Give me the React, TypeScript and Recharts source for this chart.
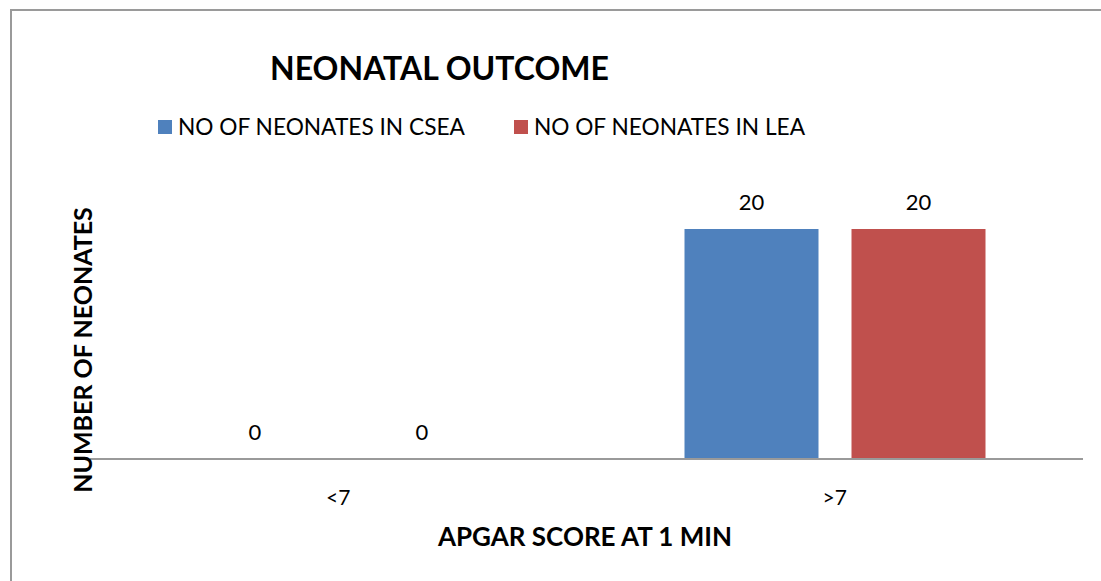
import React from "react";
import { BarChart, Bar, XAxis, YAxis, LabelList } from "recharts";

const categories = ["<7", ">7"];
const cseaValues = [0, 20];
const leaValues = [0, 20];
const seriesNames = ["NO OF NEONATES IN CSEA", "NO OF NEONATES IN LEA"];
const seriesColors = ["#4F81BD", "#C0504D"];
const chartTitle = "NEONATAL OUTCOME";
const xTitle = "APGAR SCORE AT 1 MIN";
const yTitle = "NUMBER OF NEONATES";

const data = categories.map((c, i) => ({ cat: c, csea: cseaValues[i], lea: leaValues[i] }));

const FONT = "Lato, 'Open Sans', sans-serif";

export default function App() {
  return (
    <div style={{ position: "absolute", left: 0, top: 0, width: 1101, height: 581, background: "#fff", overflow: "hidden", fontFamily: FONT }}>
      <div style={{ position: "absolute", left: 10, top: 9, width: 1200, height: 700, borderLeft: "2px solid #9a9a9a", borderTop: "2px solid #9a9a9a" }} />
      <BarChart
        width={1101}
        height={581}
        data={data}
        margin={{ top: 171.5, right: 18, left: 90, bottom: 92 }}
        barSize={134}
        barGap={33}
        style={{ position: "absolute", left: 0, top: 0 }}
      >
        <XAxis
          dataKey="cat"
          height={30}
          axisLine={{ stroke: "#9a9a9a", strokeWidth: 2 }}
          tickLine={false}
          tickSize={0}
          tickMargin={31}
          tick={{ fill: "#000", fontSize: 21, fontFamily: FONT }}
        />
        <YAxis hide domain={[0, 25]} />
        <Bar dataKey="csea" name={seriesNames[0]} fill={seriesColors[0]} minPointSize={0.01} isAnimationActive={false}>
          <LabelList dataKey="csea" position="top" offset={19} fill="#000" fontSize={22} fontFamily={FONT} />
        </Bar>
        <Bar dataKey="lea" name={seriesNames[1]} fill={seriesColors[1]} minPointSize={0.01} isAnimationActive={false}>
          <LabelList dataKey="lea" position="top" offset={19} fill="#000" fontSize={22} fontFamily={FONT} />
        </Bar>
      </BarChart>
      <div style={{ position: "absolute", left: 158, top: 115, display: "flex", alignItems: "center", fontFamily: FONT, fontSize: 22.7, color: "#000" }}>
        {seriesNames.map((n, i) => (
          <div key={i} style={{ display: "flex", alignItems: "center", marginRight: 49 }}>
            <span style={{ display: "inline-block", width: 14, height: 14, background: seriesColors[i], marginRight: 6 }} />
            <span style={{ lineHeight: "24px", whiteSpace: "nowrap" }}>{n}</span>
          </div>
        ))}
      </div>
      <svg width={1101} height={581} style={{ position: "absolute", left: 0, top: 0, pointerEvents: "none" }}>
        <text x={439.5} y={80} textAnchor="middle" fontFamily={FONT} fontWeight="bold" fontSize={32} fill="#000">
          {chartTitle}
        </text>
        <text x={585} y={546} textAnchor="middle" fontFamily={FONT} fontWeight="bold" fontSize={26} fill="#000">
          {xTitle}
        </text>
        <text
          x={0}
          y={0}
          transform="translate(92,350) rotate(-90)"
          textAnchor="middle"
          fontFamily={FONT}
          fontWeight="bold"
          fontSize={25}
          fill="#000"
        >
          {yTitle}
        </text>
      </svg>
    </div>
  );
}
